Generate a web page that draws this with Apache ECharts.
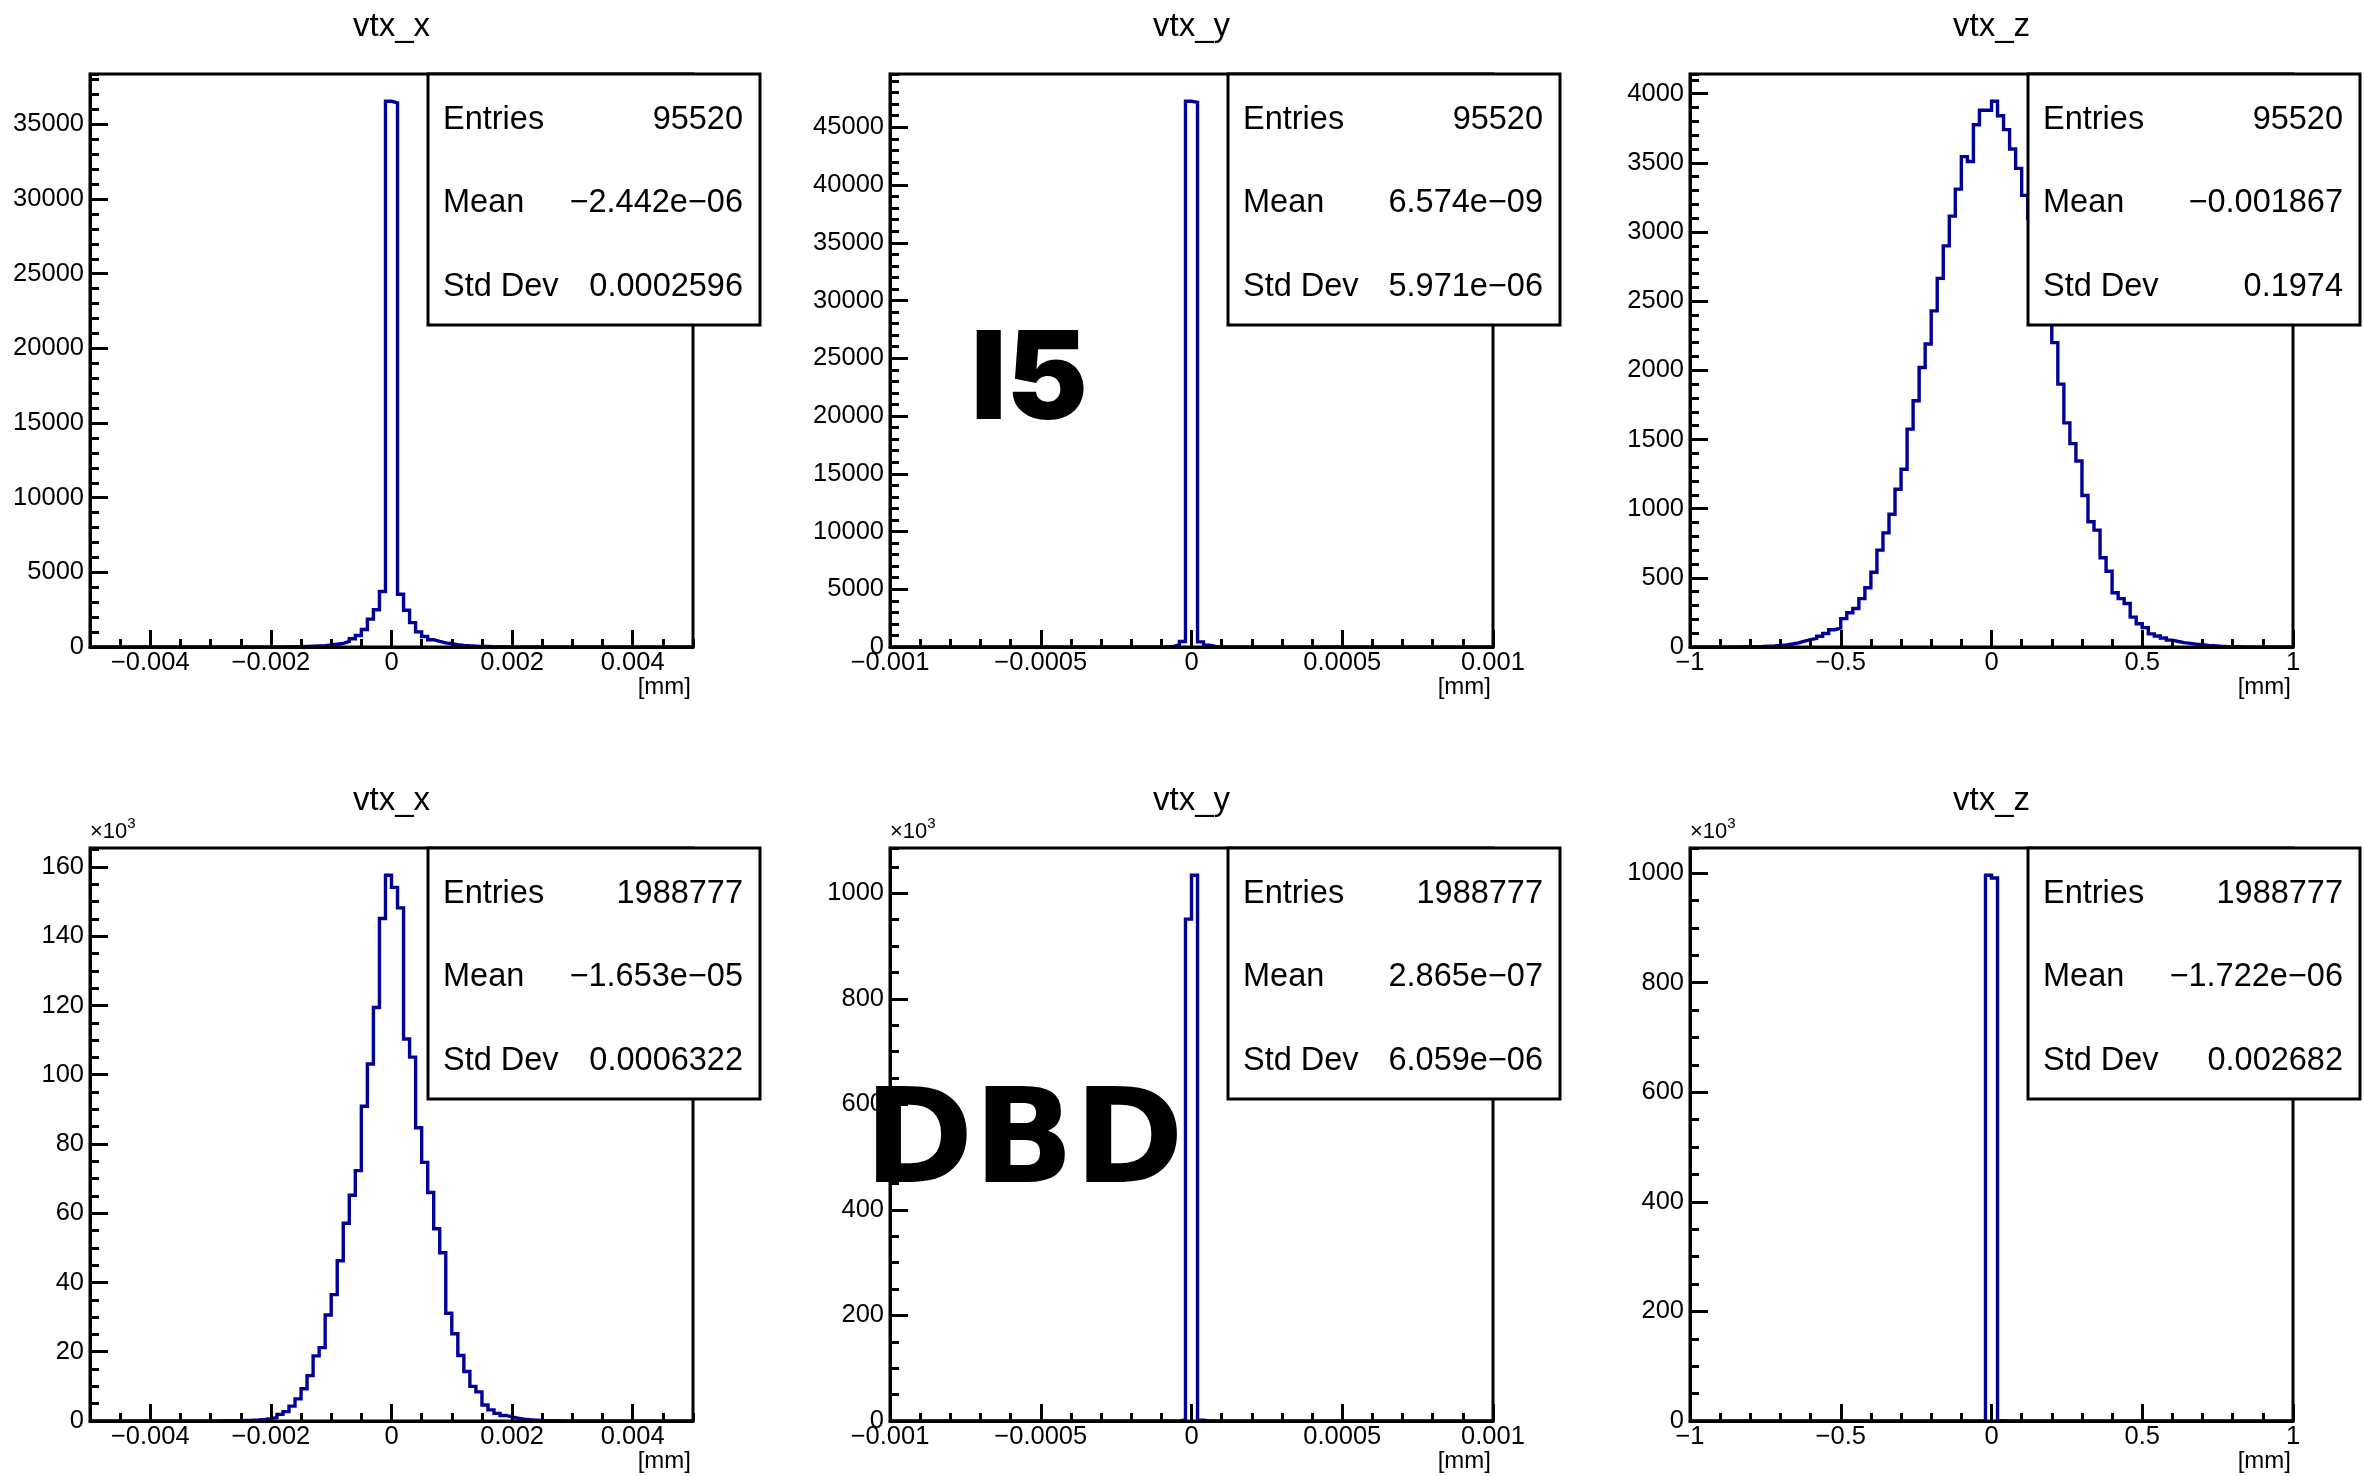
<!DOCTYPE html>
<html>
<head>
<meta charset="utf-8">
<script src="https://cdn.jsdelivr.net/npm/echarts@6/dist/echarts.min.js"></script>
<style>
  html, body { margin: 0; padding: 0; background: #ffffff; }
  #chart { width: 2364px; height: 1476px; }
</style>
</head>
<body>
<div id="chart"></div>
<script>
// ---- Histogram contents (counts per bin, 100 bins each) ----
// I5 sample
const vtxX_I5 = [
  0,0,0,0,0,0,0,0,0,0,
  0,0,0,0,0,0,0,0,0,0,
  1,1,1,1,1,2,2,3,4,5,
  7,10,14,20,28,38,50,70,95,130,
  185,245,370,550,770,1170,1870,2490,3715,36550,
  36450,3530,2460,1630,1010,705,490,370,275,215,
  150,110,80,60,45,33,25,18,13,10,
  7,5,4,3,2,2,1,1,1,1,
  0,0,0,0,0,0,0,0,0,0,
  0,0,0,0,0,0,0,0,0,0
];
const vtxY_I5 = [
  0,0,0,0,0,0,0,0,0,0,
  0,0,0,0,0,0,0,0,0,0,
  0,0,0,0,0,0,0,0,0,0,
  0,0,0,0,0,0,0,0,0,0,
  0,0,0,1,5,15,50,180,480,47250,
  47150,440,160,45,12,3,1,0,0,0,
  0,0,0,0,0,0,0,0,0,0,
  0,0,0,0,0,0,0,0,0,0,
  0,0,0,0,0,0,0,0,0,0,
  0,0,0,0,0,0,0,0,0,0
];
const vtxZ_I5 = [
  0,0,0,0,0,0,1,1,2,2,
  3,4,6,8,11,15,22,30,42,53,
  63,78,98,125,137,205,248,278,350,428,
  540,700,825,960,1140,1285,1575,1780,2020,2190,
  2430,2665,2900,3115,3310,3545,3510,3775,3880,3880,
  3945,3840,3740,3600,3460,3265,3100,2900,2680,2450,
  2200,1900,1620,1470,1345,1095,905,845,645,548,
  392,350,315,216,168,140,95,80,65,50,
  40,32,26,20,16,12,9,6,4,3,
  2,1,1,1,0,0,0,0,0,0
];
// DBD sample
const vtxX_DBD = [
  0,0,0,0,0,0,0,0,0,0,
  0,0,0,0,0,10,15,20,30,40,
  50,60,80,100,120,150,200,300,450,700,
  1000,1900,2700,4300,6400,9300,13100,18800,21200,30600,
  36500,46300,57100,65200,72300,90900,103100,119400,145100,157600,
  154100,148200,110300,105100,84700,74700,66000,55500,48600,31100,
  25200,18900,14300,10000,8400,4600,3200,2200,1600,1200,
  800,500,350,250,150,100,80,60,40,30,
  20,15,10,8,5,3,2,1,1,0,
  0,0,0,0,0,0,0,0,0,0
];
const vtxY_DBD = [
  0,0,0,0,0,0,0,0,0,0,
  0,0,0,0,0,0,0,0,0,0,
  0,0,0,0,0,0,0,0,0,0,
  0,0,0,0,0,0,0,0,0,0,
  0,0,0,0,0,20,80,300,2000,951000,
  1034000,1500,200,60,15,0,0,0,0,0,
  0,0,0,0,0,0,0,0,0,0,
  0,0,0,0,0,0,0,0,0,0,
  0,0,0,0,0,0,0,0,0,0,
  0,0,0,0,0,0,0,0,0,0
];
const vtxZ_DBD = [
  0,0,0,0,0,0,0,0,0,0,
  0,0,0,0,0,0,0,0,0,0,
  0,0,0,0,0,0,0,0,0,0,
  0,0,0,0,0,0,0,0,0,0,
  0,0,0,0,0,0,0,30,400,996000,
  991000,400,30,0,0,0,0,0,0,0,
  0,0,0,0,0,0,0,0,0,0,
  0,0,0,0,0,0,0,0,0,0,
  0,0,0,0,0,0,0,0,0,0,
  0,0,0,0,0,0,0,0,0,0
];

// ---- Panel descriptions ----
const panelTitles = ['vtx_x', 'vtx_y', 'vtx_z', 'vtx_x', 'vtx_y', 'vtx_z'];
const panelHists = [vtxX_I5, vtxY_I5, vtxZ_I5, vtxX_DBD, vtxY_DBD, vtxZ_DBD];
const binRanges = [[-0.005, 0.005], [-0.001, 0.001], [-1, 1], [-0.005, 0.005], [-0.001, 0.001], [-1, 1]];
const xUnit = '[mm]';

// tick labels
const xTicksX = [-0.004, -0.002, 0, 0.002, 0.004];
const xTicksY = [-0.001, -0.0005, 0, 0.0005, 0.001];
const xTicksZ = [-1, -0.5, 0, 0.5, 1];
const xMajorTicks = [xTicksX, xTicksY, xTicksZ, xTicksX, xTicksY, xTicksZ];
const xMinorSteps = [0.0005, 0.0001, 0.1, 0.0005, 0.0001, 0.1];

const yTicksTopX = [0, 5000, 10000, 15000, 20000, 25000, 30000, 35000];
const yTicksTopY = [0, 5000, 10000, 15000, 20000, 25000, 30000, 35000, 40000, 45000];
const yTicksTopZ = [0, 500, 1000, 1500, 2000, 2500, 3000, 3500, 4000];
const yTicksBotX = [0, 20000, 40000, 60000, 80000, 100000, 120000, 140000, 160000];
const yTicksBotY = [0, 200000, 400000, 600000, 800000, 1000000];
const yTicksBotZ = [0, 200000, 400000, 600000, 800000, 1000000];
const yMajorTicks = [yTicksTopX, yTicksTopY, yTicksTopZ, yTicksBotX, yTicksBotY, yTicksBotZ];
const yMinorSteps = [1000, 1000, 100, 5000, 50000, 50000];
const yLabelDivisors = [1, 1, 1, 1000, 1000, 1000];

// statistics boxes
const statEntries = ['95520', '95520', '95520', '1988777', '1988777', '1988777'];
const statMeans = ['\u22122.442e\u221206', '6.574e\u221209', '\u22120.001867',
                   '\u22121.653e\u221205', '2.865e\u221207', '\u22121.722e\u221206'];
const statStdDevs = ['0.0002596', '5.971e\u221206', '0.1974',
                     '0.0006322', '6.059e\u221206', '0.002682'];

// sample tags
const sampleTags = ['I5', 'DBD'];

// ---- Layout ----
const FONT = '"Liberation Sans", Arial, Helvetica, sans-serif';
const gridLefts = [90, 890, 1690];
const gridTops = [74, 848];
const gridW = 603;
const gridH = 573;
const statW = 332, statH = 251, statOffset = 338;
const lineColor = '#000099';
const labelSize = 25.5;

function fmtValue(v) {
  if (Math.abs(v) < 1e-12) return '0';
  const s = String(+v.toPrecision(6));
  return s.replace('-', '\u2212');
}

// step outline of a histogram: each bin contributes its two edges at its content
function stepPoints(values, range) {
  const n = values.length;
  const w = (range[1] - range[0]) / n;
  const pts = [[range[0], 0]];
  for (let i = 0; i < n; i++) {
    const lo = range[0] + i * w;
    const hi = range[0] + (i + 1) * w;
    pts.push([lo, values[i]]);
    pts.push([hi, values[i]]);
  }
  pts.push([range[1], 0]);
  return pts;
}

const grids = [], xAxes = [], yAxes = [], series = [], titles = [], graphics = [];
const black = '#000000';

for (let p = 0; p < 6; p++) {
  const col = p % 3, row = Math.floor(p / 3);
  const gl = gridLefts[col], gt = gridTops[row];
  const range = binRanges[p];
  const hist = panelHists[p];
  const yMax = 1.05 * Math.max.apply(null, hist);

  grids.push({
    left: gl, top: gt, width: gridW, height: gridH,
    show: true, borderColor: black, borderWidth: 3, backgroundColor: 'transparent',
    containLabel: false, outerBoundsMode: 'none'
  });

  // main x axis: long ticks + labels
  xAxes.push({
    type: 'value', gridIndex: p, min: range[0], max: range[1], position: 'bottom', z: 4,
    axisLine: { show: true, onZero: false, lineStyle: { color: black, width: 3 } },
    axisTick: { show: true, inside: true, length: 17, customValues: xMajorTicks[p],
                lineStyle: { color: black, width: 3 } },
    axisLabel: { show: true, customValues: xMajorTicks[p], formatter: fmtValue, margin: 3,
                 fontSize: labelSize, color: black, fontFamily: FONT, hideOverlap: false },
    splitLine: { show: false }
  });
  // secondary x axis: short ticks
  xAxes.push({
    type: 'value', gridIndex: p, min: range[0], max: range[1], interval: xMinorSteps[p],
    position: 'bottom', z: 4,
    axisLine: { show: false, onZero: false },
    axisTick: { show: true, inside: true, length: 8, lineStyle: { color: black, width: 3 } },
    axisLabel: { show: false },
    splitLine: { show: false }
  });

  const div = yLabelDivisors[p];
  const yMain = {
    type: 'value', gridIndex: p, min: 0, max: yMax, position: 'left', z: 4,
    axisLine: { show: true, onZero: false, lineStyle: { color: black, width: 3 } },
    axisTick: { show: true, inside: true, length: 18, customValues: yMajorTicks[p],
                lineStyle: { color: black, width: 3 } },
    axisLabel: { show: true, customValues: yMajorTicks[p], formatter: v => fmtValue(v / div),
                 margin: 6, fontSize: labelSize, color: black, fontFamily: FONT, hideOverlap: false },
    splitLine: { show: false }
  };
  if (div !== 1) {
    yMain.name = '\u00d710{sup|3}';
    yMain.nameLocation = 'end';
    yMain.nameGap = 0;
    yMain.nameTextStyle = {
      fontSize: 22, color: black, fontFamily: FONT, align: 'left', verticalAlign: 'bottom',
      lineHeight: 32,
      rich: { sup: { fontSize: 15, color: black, fontFamily: FONT, verticalAlign: 'top', lineHeight: 15 } }
    };
  }
  yAxes.push(yMain);
  yAxes.push({
    type: 'value', gridIndex: p, min: 0, max: yMax, interval: yMinorSteps[p], position: 'left', z: 4,
    axisLine: { show: false, onZero: false },
    axisTick: { show: true, inside: true, length: 9, lineStyle: { color: black, width: 3 } },
    axisLabel: { show: false },
    splitLine: { show: false }
  });

  series.push({
    type: 'line', xAxisIndex: 2 * p, yAxisIndex: 2 * p,
    data: stepPoints(hist, range),
    showSymbol: false, symbol: 'none', clip: true, silent: true, animation: false, z: 2,
    lineStyle: { color: lineColor, width: 3.4, join: 'miter' }
  });

  titles.push({
    text: panelTitles[p], left: gl + gridW / 2, top: gt - 64, textAlign: 'center', padding: 0,
    textStyle: { fontSize: 33, fontWeight: 'normal', color: black, fontFamily: FONT }
  });

  // axis unit under the right end of the x axis
  graphics.push({
    type: 'text', z: 10,
    style: { text: xUnit, x: gl + gridW - 2, y: gt + gridH + 40, fill: black, font: '24px ' + FONT,
             textAlign: 'right', verticalAlign: 'middle', textVerticalAlign: 'middle' }
  });

  // statistics box
  const bx = gl + statOffset, by = gt;
  graphics.push({
    type: 'rect', z: 50,
    shape: { x: bx, y: by, width: statW, height: statH },
    style: { fill: '#ffffff', stroke: black, lineWidth: 3 }
  });
  const rowsL = ['Entries', 'Mean', 'Std Dev'];
  const rowsR = [statEntries[p], statMeans[p], statStdDevs[p]];
  for (let r = 0; r < 3; r++) {
    const cy = by + statH * (2 * r + 1) / 6 + 4;
    graphics.push({
      type: 'text', z: 51,
      style: { text: rowsL[r], x: bx + 15, y: cy, fill: black, font: '32.5px ' + FONT,
               textAlign: 'left', verticalAlign: 'middle', textVerticalAlign: 'middle' }
    });
    graphics.push({
      type: 'text', z: 51,
      style: { text: rowsR[r], x: bx + statW - 17, y: cy, fill: black, font: '32.5px ' + FONT,
               textAlign: 'right', verticalAlign: 'middle', textVerticalAlign: 'middle' }
    });
  }
}

// sample tags written over the middle panels
graphics.push({
  type: 'text', z: 60,
  style: { text: sampleTags[0], x: 971, y: 382, fill: black, font: '900 122px Inter',
           textAlign: 'left', verticalAlign: 'middle', textVerticalAlign: 'middle' }
});
graphics.push({
  type: 'text', z: 60,
  style: { text: sampleTags[1], x: 864, y: 1148, fill: black, font: 'bold 132px "DejaVu Sans"',
           textAlign: 'left', verticalAlign: 'middle', textVerticalAlign: 'middle' }
});

const chart = echarts.init(document.getElementById('chart'), null, { renderer: 'canvas' });
chart.setOption({
  backgroundColor: '#ffffff',
  animation: false,
  title: titles,
  grid: grids,
  xAxis: xAxes,
  yAxis: yAxes,
  series: series,
  graphic: { elements: graphics }
});
</script>
</body>
</html>
